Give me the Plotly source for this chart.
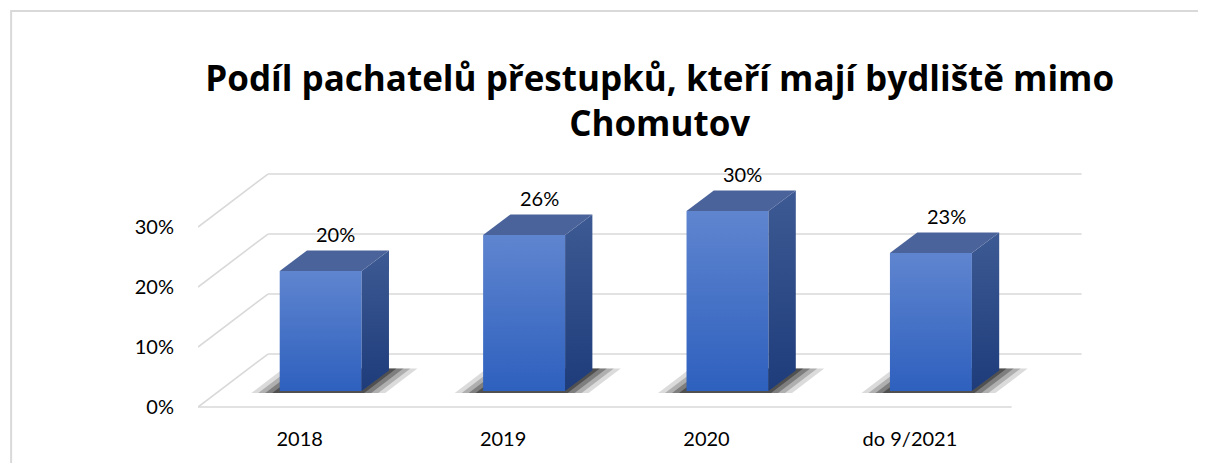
import plotly.graph_objects as go

categories = ["2018", "2019", "2020", "do 9/2021"]
values = [20, 26, 30, 23]
value_labels = ["20%", "26%", "30%", "23%"]
y_ticks = [0, 10, 20, 30]
y_tick_labels = ["0%", "10%", "20%", "30%"]
title = "Podíl pachatelů přestupků, kteří mají bydliště mimo<br>Chomutov"

# fake 3D: depth vector of the floor (in category units, percent units)
DX, DY = 0.344, 8.83
F0, F1 = 0.30, 0.69     # bar front / back as fraction of floor depth
W = 0.403               # bar width in category units
PX = 1 / 203.5          # one pixel in category units
GRID = "#D9D9D9"
FONT = "Lato"

n = len(categories)
fig = go.Figure()

def poly(xs, ys, **kw):
    fig.add_trace(go.Scatter(x=xs + [xs[0]], y=ys + [ys[0]], mode="lines", fill="toself",
                             line=dict(width=0), hoverinfo="skip", showlegend=False, **kw))

# walls / gridlines
for v in y_ticks:
    fig.add_trace(go.Scatter(x=[DX, n + DX], y=[v + DY, v + DY], mode="lines",
                             line=dict(color=GRID, width=1.6), hoverinfo="skip", showlegend=False))
    fig.add_trace(go.Scatter(x=[0, DX], y=[v, v + DY], mode="lines",
                             line=dict(color=GRID, width=1.6), hoverinfo="skip", showlegend=False))
fig.add_trace(go.Scatter(x=[0, n], y=[0, 0], mode="lines",
                         line=dict(color=GRID, width=1.6), hoverinfo="skip", showlegend=False))

bx, by = (F1 - F0) * DX, (F1 - F0) * DY
for i, v in enumerate(values):
    xl = i + 0.5 - W / 2 + F0 * DX
    xr = xl + W
    yb = F0 * DY
    yt = v + yb

    # soft shadow on the floor
    for grow, op in [(26, 0.14), (19, 0.2), (12, 0.28), (5, 0.36)]:
        d0, d1 = F0 - 0.035, F1 + 0.035
        g = grow * PX
        poly([xl - g - (F0 - d0) * DX, xr + g - (F0 - d0) * DX,
              xr + g + (d1 - F0) * DX, xl - g + (d1 - F0) * DX],
             [d0 * DY, d0 * DY, d1 * DY, d1 * DY],
             fillcolor="rgba(0,0,0,%s)" % op)

    # front face
    poly([xl, xr, xr, xl], [yb, yb, yt, yt],
         fillgradient=dict(type="vertical", colorscale=[[0, "#2E60BE"], [1, "#5F85CF"]]))
    # side face
    poly([xr, xr + bx, xr + bx, xr], [yb, yb + by, yt + by, yt],
         fillgradient=dict(type="vertical", colorscale=[[0, "#1E3C7A"], [1, "#3D5A94"]]))
    # top face
    poly([xl, xr, xr + bx, xl + bx], [yt, yt, yt + by, yt + by], fillcolor="#4A639A")

    fig.add_annotation(x=i + 0.5 + F0 * DX + 0.075, y=yt + by, text=value_labels[i],
                       showarrow=False, yshift=16, font=dict(family=FONT, size=20, color="#000000"))

# frame
fig.add_shape(type="rect", xref="paper", yref="paper", x0=-0.2088, x1=1.3, y0=-0.3, y1=1.4205,
              line=dict(color=GRID, width=2), layer="below")

fig.update_layout(
    width=1198, height=455,
    margin=dict(l=190, r=113, t=122, b=50),
    paper_bgcolor="white", plot_bgcolor="white",
    title=dict(text=title, x=0.544, xanchor="center", xref="container",
               y=0.818, yanchor="top", yref="container",
               font=dict(family="Open Sans", size=35, color="#000000", weight="bold")),
    xaxis=dict(range=[0, n + 0.4], tickvals=[i + 0.5 for i in range(n)], ticktext=categories,
               showgrid=False, zeroline=False, showline=False, ticks="",
               ticklabelstandoff=12, tickfont=dict(family=FONT, size=20, color="#000000")),
    yaxis=dict(range=[-1, 46.1667], tickvals=y_ticks, ticktext=y_tick_labels,
               showgrid=False, zeroline=False, showline=False, ticks="",
               ticklabelstandoff=23, tickfont=dict(family=FONT, size=20, color="#000000")),
    showlegend=False,
)

fig.write_html("out.html")
